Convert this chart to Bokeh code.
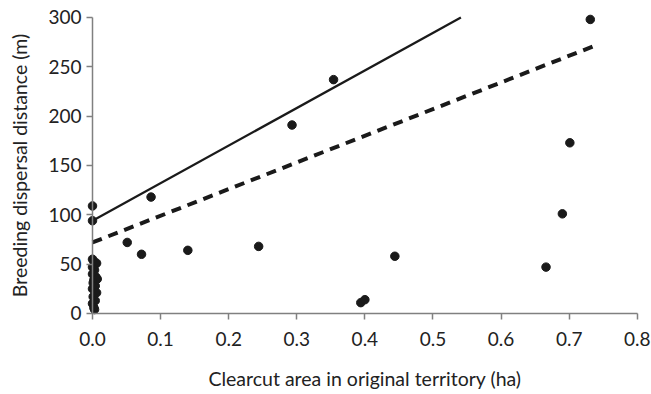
from bokeh.plotting import figure
from bokeh.models import Range1d, FixedTicker, NumeralTickFormatter
from bokeh.embed import file_html
from bokeh.resources import INLINE

# Observations
area_ha = [0.000, 0.002, 0.004, 0.000, 0.006, 0.003, 0.000, 0.005, 0.002, 0.007,
           0.001, 0.004, 0.000, 0.003, 0.006, 0.001, 0.004, 0.000, 0.002, 0.003,
           0.000, 0.000,
           0.051, 0.072, 0.086, 0.140, 0.244, 0.293, 0.354, 0.394, 0.400, 0.444,
           0.666, 0.690, 0.701, 0.731]
distance_m = [55, 53, 50, 47, 51, 44, 40, 37, 34, 35,
              31, 28, 25, 27, 21, 17, 13, 10, 6, 4,
              109, 94,
              72, 60, 118, 64, 68, 191, 237, 11, 14, 58,
              47, 101, 173, 298]

# Fitted lines
solid_x = [0.0, 0.541]
solid_y = [94, 300]
dashed_x = [0.0, 0.74]
dashed_y = [72, 272]

x_ticks = [0.0, 0.1, 0.2, 0.3, 0.4, 0.5, 0.6, 0.7, 0.8]
y_ticks = [0, 50, 100, 150, 200, 250, 300]

FONT = "Lato"
INK = "#1a1a1a"
AXIS = "#808080"

p = figure(width=651, height=394,
           x_range=Range1d(-0.1351, 0.8209), y_range=Range1d(-82.1, 317.2),
           output_backend="svg", toolbar_location=None,
           min_border_left=0, min_border_right=0,
           min_border_top=0, min_border_bottom=0)
p.outline_line_color = None
p.xgrid.visible = False
p.ygrid.visible = False
p.background_fill_color = "white"
p.border_fill_color = "white"

p.line(solid_x, solid_y, line_color=INK, line_width=2.2)
p.line(dashed_x, dashed_y, line_color=INK, line_width=4, line_dash="10 7")
p.scatter(area_ha, distance_m, size=8.5, fill_color=INK, line_color=INK)

for ax in (p.xaxis[0], p.yaxis[0]):
    ax.fixed_location = 0
    ax.axis_line_color = AXIS
    ax.axis_line_width = 1.5
    ax.major_tick_line_color = AXIS
    ax.major_tick_line_width = 1.5
    ax.major_tick_out = 6
    ax.major_tick_in = 0
    ax.minor_tick_line_color = None
    ax.major_label_text_font = FONT
    ax.major_label_text_font_size = "19px"
    ax.major_label_text_color = "#222222"
    ax.axis_label_text_font = FONT
    ax.axis_label_text_font_size = "19.5px"
    ax.axis_label_text_font_style = "normal"
    ax.axis_label_text_color = "#222222"

p.xaxis.bounds = (0, 0.8)
p.yaxis.bounds = (0, 300)
p.xaxis.ticker = FixedTicker(ticks=x_ticks)
p.xaxis.formatter = NumeralTickFormatter(format="0.0")
p.yaxis.ticker = FixedTicker(ticks=y_ticks)
p.xaxis.axis_label = "Clearcut area in original territory (ha)"
p.yaxis.axis_label = "Breeding dispersal distance (m)"
p.xaxis.axis_label_standoff = 17
p.yaxis.axis_label_standoff = 14
p.xaxis.major_label_standoff = 13
p.yaxis.major_label_standoff = 5

open("out.html", "w").write(file_html(p, INLINE))
